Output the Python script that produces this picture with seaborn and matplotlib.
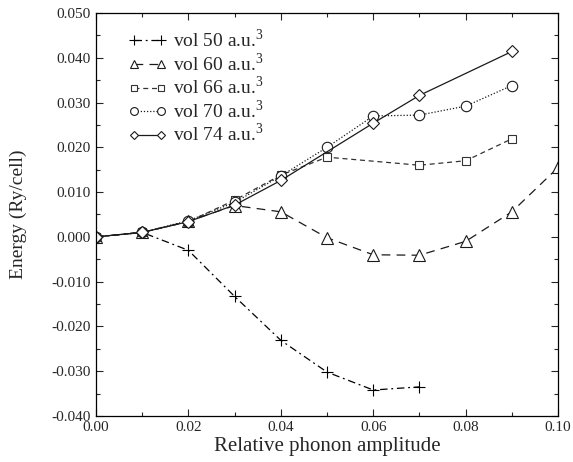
import numpy as np
import pandas as pd
import matplotlib
matplotlib.use("Agg")
import matplotlib.pyplot as plt
import seaborn as sns
from matplotlib.ticker import MultipleLocator, FormatStrFormatter

sns.set_style("ticks")
plt.rcParams['font.family'] = ['Liberation Serif', 'DejaVu Serif']
plt.rcParams['mathtext.fontset'] = 'custom'
plt.rcParams['mathtext.rm'] = 'Liberation Serif'

x50 = [0.00, 0.01, 0.02, 0.03, 0.04, 0.05, 0.06, 0.07]
y50 = [0.0, 0.001, -0.003, -0.0133, -0.0231, -0.0302, -0.0342, -0.0335]
x60 = [0.00, 0.01, 0.02, 0.03, 0.04, 0.05, 0.06, 0.07, 0.08, 0.09, 0.10]
y60 = [0.0, 0.001, 0.0035, 0.0070, 0.0056, -0.0002, -0.0040, -0.0041, -0.0010, 0.0056, 0.0155]
x66 = [0.00, 0.01, 0.02, 0.03, 0.04, 0.05, 0.07, 0.08, 0.09]
y66 = [0.0, 0.001, 0.0034, 0.0082, 0.0138, 0.0178, 0.0160, 0.0170, 0.0219]
x70 = [0.00, 0.01, 0.02, 0.03, 0.04, 0.05, 0.06, 0.07, 0.08, 0.09]
y70 = [0.0, 0.001, 0.0036, 0.0077, 0.0136, 0.0200, 0.0270, 0.0272, 0.0292, 0.0338]
x74 = [0.00, 0.01, 0.02, 0.03, 0.04, 0.06, 0.07, 0.09]
y74 = [0.0, 0.001, 0.0034, 0.0071, 0.0126, 0.0254, 0.0316, 0.0414]

labels = ["vol 50 a.u.$^{3}$", "vol 60 a.u.$^{3}$", "vol 66 a.u.$^{3}$",
          "vol 70 a.u.$^{3}$", "vol 74 a.u.$^{3}$"]

series = [
    (x50, y50, '+', (0, (6, 3, 1.5, 3)), 9, '#000000'),
    (x60, y60, '^', (0, (7, 5)), 8, '#1a1a1a'),
    (x66, y66, 's', (0, (4, 3)), 6, '#333333'),
    (x70, y70, 'o', (0, (1, 1.5)), 7.5, '#1a1a1a'),
    (x74, y74, 'D', '-', 6, '#1a1a1a'),
]

fig = plt.figure(figsize=(5.73, 4.62), dpi=100)
ax = fig.add_axes([0.1675, 0.0996, 0.8065, 0.8723])

for (xs, ys, m, ls, ms, c), lab in zip(series, labels):
    df = pd.DataFrame({'x': xs, 'y': ys})
    sns.lineplot(data=df, x='x', y='y', ax=ax, color=c, linestyle=ls, linewidth=0.9,
                 marker=m, markersize=ms, markerfacecolor='white',
                 markeredgecolor=c, markeredgewidth=0.8, label=lab)

ax.set_xlim(0, 0.10)
ax.set_ylim(-0.04, 0.05)
ax.xaxis.set_major_locator(MultipleLocator(0.02))
ax.xaxis.set_minor_locator(MultipleLocator(0.01))
ax.yaxis.set_major_locator(MultipleLocator(0.01))
ax.yaxis.set_minor_locator(MultipleLocator(0.005))
ax.xaxis.set_major_formatter(FormatStrFormatter('%.2f'))
ax.yaxis.set_major_formatter(FormatStrFormatter('%.3f'))
ax.tick_params(which='both', direction='in', top=True, right=True, labelsize=11, width=0.8)
ax.tick_params(which='major', length=5)
ax.tick_params(which='minor', length=3)
for s in ax.spines.values():
    s.set_linewidth(0.9)
    s.set_color('black')

ax.set_xlabel("Relative phonon amplitude", fontsize=15, labelpad=2)
ax.set_ylabel("Energy (Ry/cell)", fontsize=14)
ax.yaxis.set_label_coords(-0.15, 0.5)

leg = ax.legend(loc='upper left', frameon=False, fontsize=14, numpoints=2,
                handlelength=2.0, handletextpad=0.3, labelspacing=0.05,
                bbox_to_anchor=(0.04, 0.995), borderaxespad=0.3)
for h in leg.legend_handles:
    h.set_markersize(h.get_markersize() * 0.75)

fig.savefig("out.png", dpi=100)
